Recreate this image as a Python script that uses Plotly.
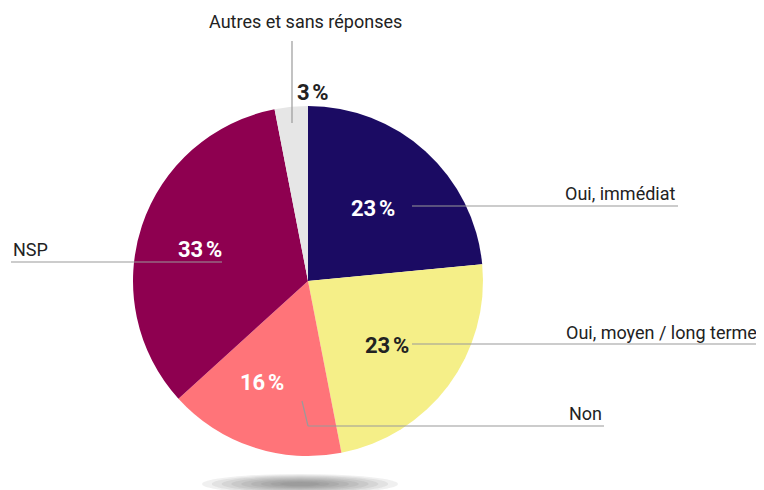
import plotly.graph_objects as go

categories = ["Oui, immédiat", "Oui, moyen / long terme", "Non", "NSP", "Autres et sans réponses"]
values = [23, 23, 16, 33, 3]
pct_labels = ["23\u202f%", "23\u202f%", "16\u202f%", "33\u202f%", "3\u202f%"]
colors = ["#1b0b63", "#f5ef88", "#ff7479", "#8e0050", "#e6e6e6"]
pct_colors = ["white", "#222222", "white", "white", "#222222"]

OFF = 8  # page body margin
W, H = 764 - OFF, 490 - OFF
FONT = "Roboto, sans-serif"

def px(x):
    return (x - OFF) / W

def py(y):
    return 1 - (y - OFF) / H

cx, cy, r = 308, 281, 175

fig = go.Figure(go.Pie(
    labels=categories, values=values, sort=False, direction="clockwise", rotation=0,
    marker=dict(colors=colors, line=dict(width=0)), textinfo="none", hoverinfo="label+percent",
    domain=dict(x=[px(cx - r), px(cx + r)], y=[py(cy + r), py(cy - r)]),
    showlegend=False,
))

shapes = []
# shadow under pie
for i in range(9):
    f = 1 - i * 0.1
    hw, hh = 98 * f, 10 * f
    shapes.append(dict(type="circle", xref="paper", yref="paper",
                       x0=px(300 - hw), x1=px(300 + hw), y0=py(484 + hh), y1=py(484 - hh),
                       fillcolor="rgba(90,90,90,0.09)", line=dict(width=0), layer="below"))

line_style = dict(color="#9a9a9a", width=1.2)
leaders = [
    [(412, 206), (678, 206)],
    [(412, 344), (759, 344)],
    [(302, 401), (308, 426), (604, 426)],
    [(11, 262), (222, 262)],
    [(292, 41), (292, 123)],
]
for pts in leaders:
    for (x0, y0), (x1, y1) in zip(pts[:-1], pts[1:]):
        shapes.append(dict(type="line", xref="paper", yref="paper",
                           x0=px(x0), y0=py(y0), x1=px(x1), y1=py(y1), line=line_style))

annotations = []
cat_pos = [
    (678, 194, "right"),
    (759, 332, "right"),
    (604, 413, "right"),
    (11, 249, "left"),
    (305, 21, "center"),
]
for name, (x, y, al) in zip(categories, cat_pos):
    annotations.append(dict(text=name, x=px(x), y=py(y), xref="paper", yref="paper",
                            xanchor=al, yanchor="middle", showarrow=False,
                            font=dict(family=FONT, size=18, color="#222222")))

pct_pos = [(373, 208), (387, 345), (262, 382), (200, 249), (313, 92)]
for lab, col, (x, y) in zip(pct_labels, pct_colors, pct_pos):
    annotations.append(dict(text="<b>" + lab + "</b>", x=px(x), y=py(y), xref="paper", yref="paper",
                            xanchor="center", yanchor="middle", showarrow=False,
                            font=dict(family=FONT, size=22, color=col)))

fig.update_layout(
    width=W, height=H, margin=dict(l=0, r=0, t=0, b=0),
    paper_bgcolor="white", plot_bgcolor="white",
    shapes=shapes, annotations=annotations,
)

fig.write_html("out.html")
